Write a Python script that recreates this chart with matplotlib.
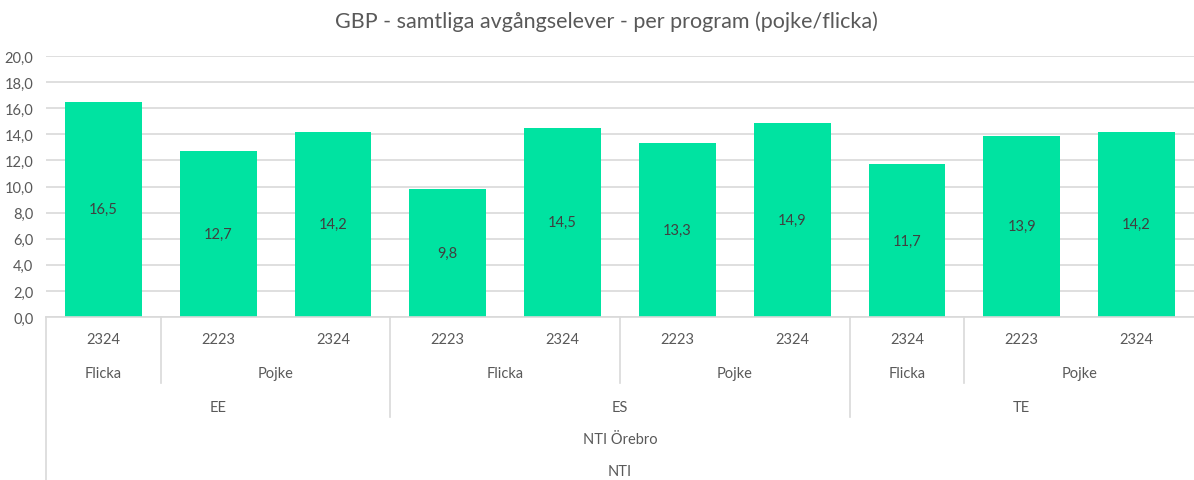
import matplotlib.pyplot as plt

# data
years = ['2324', '2223', '2324', '2223', '2324', '2223', '2324', '2324', '2223', '2324']
values = [16.5, 12.7, 14.2, 9.8, 14.5, 13.3, 14.9, 11.7, 13.9, 14.2]
genders = ['Flicka', 'Pojke', 'Flicka', 'Pojke', 'Flicka', 'Pojke']
gender_sizes = [1, 2, 2, 2, 1, 2]
programs = ['EE', 'ES', 'TE']
program_sizes = [3, 4, 3]
school = 'NTI Örebro'
org = 'NTI'

BAR = '#00E3A1'
TXT = '#595959'
GRID = '#D9D9D9'
W, H = 1194, 481

plt.rcParams['font.family'] = ['Lato', 'DejaVu Sans']

fig = plt.figure(figsize=(W / 100, H / 100), dpi=100)
# axes placed in pixel terms
top_px, bot_px, left_px, right_px = 57, 318, 46, 1194
ax = fig.add_axes([left_px / W, 1 - bot_px / H, (right_px - left_px) / W, (bot_px - top_px) / H])

x = list(range(len(values)))
ax.bar(x, values, width=0.67, color=BAR, zorder=2)
for xi, v in zip(x, values):
    ax.text(xi, v / 2, f'{v:.1f}'.replace('.', ','), ha='center', va='center',
            fontsize=10.5, color='#404040', zorder=3)

ax.set_xlim(-0.5, len(values) - 0.5)
ax.set_ylim(0, 20)
ax.set_yticks(range(0, 21, 2))
ax.set_yticklabels([f'{t:.1f}'.replace('.', ',') for t in range(0, 21, 2)])
ax.tick_params(axis='y', length=0, labelsize=10.5, labelcolor=TXT, pad=9)
ax.set_xticks([])
ax.yaxis.grid(True, color=GRID, linewidth=1.2, zorder=0)
for s in ['top', 'right', 'left']:
    ax.spines[s].set_visible(False)
ax.spines['bottom'].set_color(GRID)
ax.spines['bottom'].set_linewidth(1.2)

ph = bot_px - top_px


def yfrac(py):
    # pixel row -> axes fraction
    return (bot_px - py) / ph


tr = ax.get_xaxis_transform()
kw = dict(ha='center', va='center', fontsize=10.5, color=TXT, transform=tr, clip_on=False)

# level 1: years
for xi, yr in zip(x, years):
    ax.text(xi, yfrac(340), yr, **kw)

# level 2: gender
pos = 0
bounds = []
for g, n in zip(genders, gender_sizes):
    ax.text(pos + (n - 1) / 2, yfrac(374), g, **kw)
    pos += n
    bounds.append(pos - 0.5)
bounds = bounds[:-1]

# level 3: program
prog_bounds = []
pos = 0
for p, n in zip(programs, program_sizes):
    ax.text(pos + (n - 1) / 2, yfrac(408), p, **kw)
    pos += n
    prog_bounds.append(pos - 0.5)
prog_bounds = prog_bounds[:-1]

# separators, longer where a program ends
for b in bounds:
    end = 418 if b in prog_bounds else 384
    ax.plot([b, b], [0, yfrac(end)], color=GRID, lw=1.2, transform=tr, clip_on=False)

mid = (len(values) - 1) / 2
ax.text(mid, yfrac(440), school, **kw)
ax.text(mid, yfrac(472), org, **kw)
ax.plot([-0.5, -0.5], [0, yfrac(481)], color=GRID, lw=1.2, transform=tr, clip_on=False)

fig.text(0.508, 1 - 22 / H, 'GBP - samtliga avgångselever - per program (pojke/flicka)',
         ha='center', va='center', fontsize=15.5, color=TXT)

fig.savefig('out.png', dpi=100)
